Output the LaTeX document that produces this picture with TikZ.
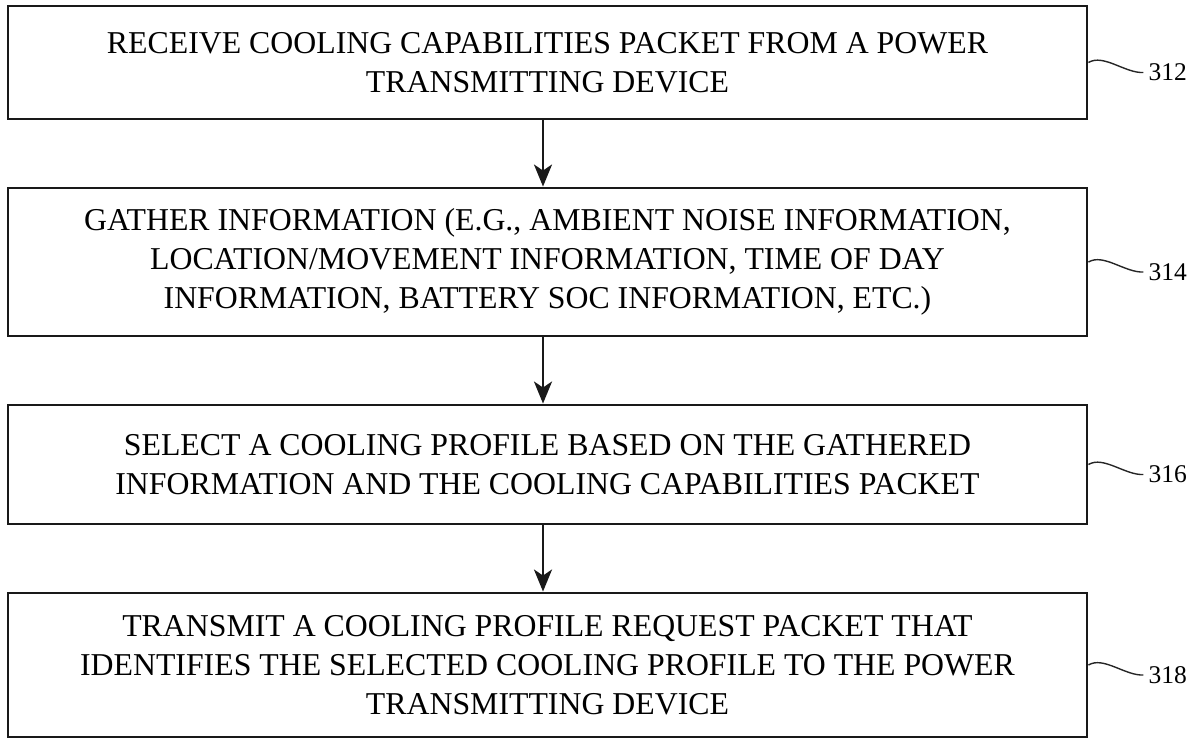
\documentclass[tikz,border=0pt]{standalone}
\usepackage{fontspec}
\setmainfont{Liberation Serif}
\usetikzlibrary{arrows.meta,calc}

\tikzset{
  stepbox/.style={draw=black!90, line width=2.9pt, minimum width=1079pt,
    inner sep=0pt, align=center, font=\fontsize{31.8}{39}\selectfont},
  flow/.style={draw=black!90, line width=2.6pt,
    -{Stealth[length=22pt,width=18pt,inset=6pt]}},
  squig/.style={draw=black!85, line width=1.4pt},
  refnum/.style={anchor=west, inner sep=0pt, font=\fontsize{25.5}{30}\selectfont}
}

\begin{document}
\begin{tikzpicture}[x=1pt,y=-1pt]
  \useasboundingbox (0,0) rectangle (1197,738);

  % process steps
  \node[stepbox, minimum height=113pt] (s312) at (547.5,62.5)
    {RECEIVE COOLING CAPABILITIES PACKET FROM A POWER\\TRANSMITTING DEVICE};
  \node[stepbox, minimum height=148pt] (s314) at (547.5,262)
    {GATHER INFORMATION (E.G., AMBIENT NOISE INFORMATION,\\
     LOCATION/MOVEMENT INFORMATION, TIME OF DAY\\
     INFORMATION, BATTERY SOC INFORMATION, ETC.)};
  \node[stepbox, minimum height=119pt] (s316) at (547.5,464.5)
    {SELECT A COOLING PROFILE BASED ON THE GATHERED\\
     INFORMATION AND THE COOLING CAPABILITIES PACKET};
  \node[stepbox, minimum height=144pt] (s318) at (547.5,665)
    {TRANSMIT A COOLING PROFILE REQUEST PACKET THAT\\
     IDENTIFIES THE SELECTED COOLING PROFILE TO THE POWER\\
     TRANSMITTING DEVICE};

  % flow arrows
  \coordinate (ax) at (543,0);
  \draw[flow] (s312.south -| ax) -- (s314.north -| ax);
  \draw[flow] (s314.south -| ax) -- (s316.north -| ax);
  \draw[flow] (s316.south -| ax) -- (s318.north -| ax);

  % reference numerals with leader squiggles
  \foreach \s in {312,314,316,318} {
    \draw[squig] (s\s.east) .. controls +(15,-9) and +(-18,1) .. ++(55,10)
      coordinate (e\s);
    \node[refnum] (n\s) at ($(e\s)+(5,0)$) {\s};
  }
\end{tikzpicture}
\end{document}
